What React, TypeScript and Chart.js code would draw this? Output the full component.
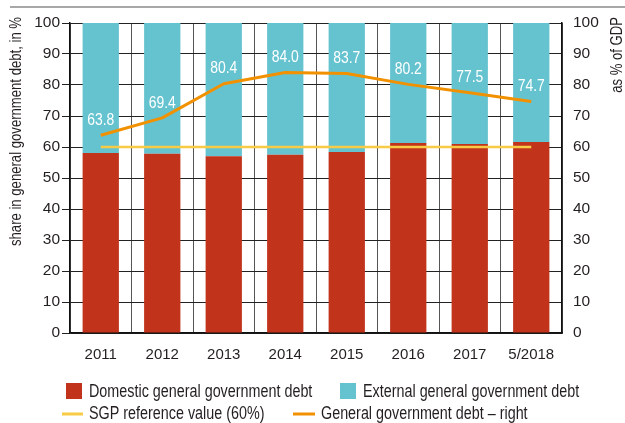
import React, { useEffect, useRef } from "react";
import { Chart, registerables } from "chart.js";

Chart.register(...registerables);

const years = ["2011", "2012", "2013", "2014", "2015", "2016", "2017", "5/2018"];
const domesticShare = [58.1, 57.8, 57.0, 57.5, 58.4, 61.3, 61.0, 61.6];
const externalShare = [41.9, 42.2, 43.0, 42.5, 41.6, 38.7, 39.0, 38.4];
const sgpReference = [60, 60, 60, 60, 60, 60, 60, 60];
const debtToGdp = [63.8, 69.4, 80.4, 84.0, 83.7, 80.2, 77.5, 74.7];

const FONT = "'Liberation Sans Narrow', 'Liberation Sans', Arial, sans-serif";
const TEXT = "#231f20";
const RED = "#c1331b";
const TEAL = "#65c3d0";
const ORANGE = "#f29100";
const YELLOW = "#f7cb45";
const SX = 0.82;

function txt(ctx: any, s: string, x: number, y: number, align: string, rot = 0) {
  ctx.save();
  ctx.translate(x, y);
  if (rot) ctx.rotate(rot);
  ctx.scale(SX, 1);
  ctx.textAlign = align;
  ctx.fillText(s, 0, 0);
  ctx.restore();
}

const overlay = {
  id: "overlay",
  afterDatasetsDraw(chart: any) {
    const ctx = chart.ctx;
    const meta = chart.getDatasetMeta(3);
    ctx.save();
    ctx.font = `17px ${FONT}`;
    ctx.fillStyle = "#ffffff";
    ctx.textBaseline = "middle";
    meta.data.forEach((pt: any, i: number) => {
      txt(ctx, debtToGdp[i].toFixed(1), pt.x, pt.y - 15, "center");
    });
    ctx.restore();
  },
  afterDraw(chart: any) {
    const ctx = chart.ctx;
    ctx.save();
    // top rule
    ctx.strokeStyle = "#8a8a8a";
    ctx.lineWidth = 1.5;
    ctx.beginPath();
    ctx.moveTo(10, 7);
    ctx.lineTo(625, 7);
    ctx.stroke();

    // axis titles
    ctx.fillStyle = TEXT;
    ctx.font = `16px ${FONT}`;
    ctx.textBaseline = "middle";
    txt(ctx, "share in general government debt, in %", 17, 17, "right", -Math.PI / 2);
    txt(ctx, "as % of GDP", 618, 17, "right", -Math.PI / 2);

    // legend
    ctx.font = `17.5px ${FONT}`;
    ctx.fillStyle = RED;
    ctx.fillRect(66, 383, 16, 16);
    ctx.fillStyle = TEAL;
    ctx.fillRect(340, 383, 16, 16);
    ctx.fillStyle = TEXT;
    txt(ctx, chart.data.datasets[0].label, 89, 392, "left");
    txt(ctx, chart.data.datasets[1].label, 363, 392, "left");
    ctx.lineWidth = 3;
    ctx.strokeStyle = YELLOW;
    ctx.beginPath();
    ctx.moveTo(62, 414);
    ctx.lineTo(83, 414);
    ctx.stroke();
    ctx.strokeStyle = ORANGE;
    ctx.beginPath();
    ctx.moveTo(293, 414);
    ctx.lineTo(315, 414);
    ctx.stroke();
    txt(ctx, chart.data.datasets[2].label, 89, 414, "left");
    txt(ctx, chart.data.datasets[3].label, 321, 414, "left");
    ctx.restore();
  },
};

export default function App() {
  const ref = useRef<HTMLCanvasElement>(null);
  useEffect(() => {
    document.body.style.margin = "0";
    const chart = new Chart(ref.current!, {
      type: "bar",
      data: {
        labels: years,
        datasets: [
          {
            label: "Domestic general government debt",
            data: domesticShare,
            backgroundColor: RED,
            stack: "s",
            yAxisID: "y",
            order: 2,
            categoryPercentage: 1,
            barPercentage: 0.59,
          },
          {
            label: "External general government debt",
            data: externalShare,
            backgroundColor: TEAL,
            stack: "s",
            yAxisID: "y",
            order: 2,
            categoryPercentage: 1,
            barPercentage: 0.59,
          },
          {
            type: "line",
            label: "SGP reference value (60%)",
            data: sgpReference,
            borderColor: YELLOW,
            borderWidth: 2.5,
            pointRadius: 0,
            yAxisID: "y1",
            order: 0,
          } as any,
          {
            type: "line",
            label: "General government debt – right",
            data: debtToGdp,
            borderColor: ORANGE,
            borderWidth: 3,
            pointRadius: 0,
            tension: 0,
            borderJoinStyle: "round",
            yAxisID: "y1",
            order: 0,
          } as any,
        ],
      },
      options: {
        responsive: false,
        animation: false,
        devicePixelRatio: 1,
        layout: { padding: { top: 23, left: 0, right: 0, bottom: 0 } },
        plugins: { legend: { display: false }, tooltip: { enabled: false } },
        scales: {
          x: {
            stacked: true,
            offset: true,
            grid: { offset: true, color: "#555", lineWidth: 1, drawTicks: false },
            border: { color: "#111", width: 1.5 },
            ticks: { color: TEXT, font: { family: FONT, size: 15 }, padding: 13 },
            afterFit: (s: any) => { s.height = 90; },
          },
          y: {
            stacked: true,
            position: "left",
            min: 0,
            max: 100,
            grid: { color: "#222", lineWidth: 1, tickLength: 8 },
            border: { color: "#111", width: 1.5 },
            ticks: { stepSize: 10, color: TEXT, font: { family: FONT, size: 15.5 }, padding: 2 },
            afterFit: (s: any) => { s.width = 70; },
          },
          y1: {
            position: "right",
            min: 0,
            max: 100,
            grid: { drawOnChartArea: false, drawTicks: false },
            border: { color: "#111", width: 1.5 },
            ticks: { stepSize: 10, color: TEXT, font: { family: FONT, size: 15.5 }, padding: 11 },
            afterFit: (s: any) => { s.width = 63; },
          },
        },
      },
      plugins: [overlay],
    });
    return () => chart.destroy();
  }, []);
  return <canvas ref={ref} width={625} height={423} style={{ display: "block" }} />;
}
